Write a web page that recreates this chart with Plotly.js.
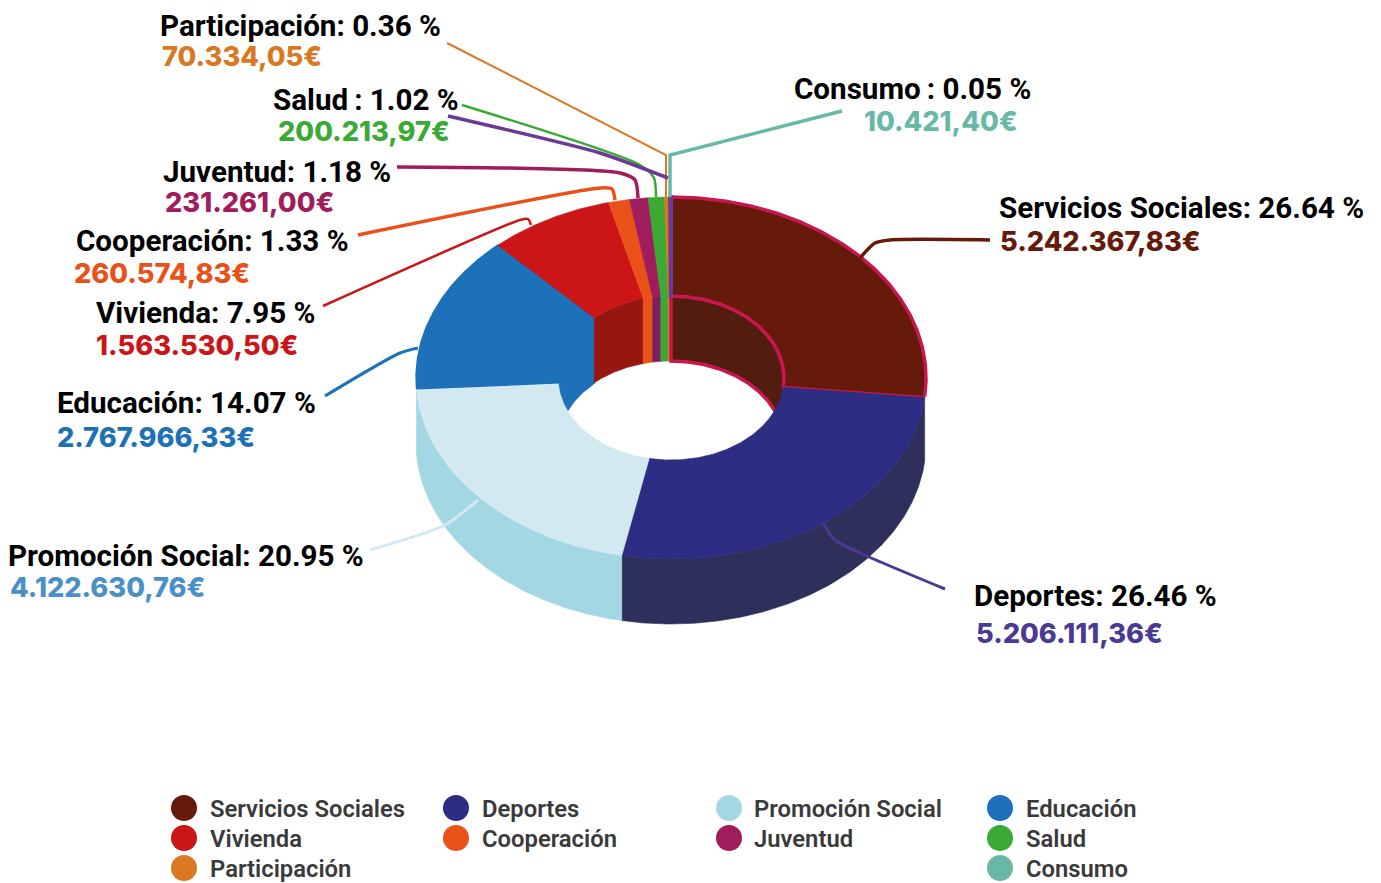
<!DOCTYPE html>
<html><head><meta charset="utf-8">
<script src="https://cdn.plot.ly/plotly-3.0.1.min.js"></script>
<style>html,body{margin:0;padding:0;background:#fff}#c{width:1381px;height:883px}</style>
</head><body><div id="c"></div>
<script>
const categories=["Servicios Sociales","Deportes","Promoción Social","Educación","Vivienda","Cooperación","Juventud","Salud","Participación","Consumo"];
const percents=[26.64,26.46,20.95,14.07,7.95,1.33,1.18,1.02,0.36,0.05];
const percentLabels=["Servicios Sociales: 26.64 %","Deportes: 26.46 %","Promoción Social: 20.95 %","Educación: 14.07 %","Vivienda: 7.95 %","Cooperación: 1.33 %","Juventud: 1.18 %","Salud\u2009: 1.02 %","Participación: 0.36 %","Consumo\u2009: 0.05 %"];
const euros=["5.242.367,83€","5.206.111,36€","4.122.630,76€","2.767.966,33€","1.563.530,50€","260.574,83€","231.261,00€","200.213,97€","70.334,05€","10.421,40€"];
const topColors=["#661a0a","#2e2d84","#d2e9f1","#1c71b8","#cb1517","#ea5119","#a01c5d","#3aaa35","#d97820","#6b3a96"];
const outerWallColors=["#661a0a","#2e2f5a","#a3d7e3","#1c71b8","#cb1517","#ea5119","#a01c5d","#3aaa35","#d97820","#6b3a96"];
const innerWallColors=["#521c0e","#2e2f5a","#a3d7e3","#1c71b8","#95170f","#ea5119","#7d1f5e","#3aaa35","#d97820","#6b3a96"];
const legendColors=["#661a0a","#2e2d84","#a3d7e3","#1c71b8","#cb1517","#ea5119","#a01c5d","#3aaa35","#d97820","#67b9a6"];
const valueColors=["#661a0a","#4a3a94","#4a90c8","#1c71b8","#cb1517","#ea5119","#a01c5d","#3aaa35","#d97820","#67b9a6"];

// geometry of the projected ring
const G={cx:671,cy:378,rx:255,ry:181,irx:113,iry:82,depth:65};
const accent="#c8174f";
const total=percents.reduce((a,b)=>a+b,0);
let run=0;
const bounds=percents.map(p=>{const s=run/total*360;run+=p;return [s,run/total*360];});
const rad=d=>d*Math.PI/180;
function arc(a0,a1,rx,ry,dy){const n=Math.max(2,Math.ceil(Math.abs(a1-a0)/0.5));const xs=[],ys=[];
 for(let i=0;i<=n;i++){const a=rad(a0+(a1-a0)*i/n);xs.push(G.cx+rx*Math.sin(a));ys.push(G.cy+dy-ry*Math.cos(a));}
 return [xs,ys];}
function poly(a,b){const x=a[0].concat(b[0].slice().reverse(),[a[0][0]]);const y=a[1].concat(b[1].slice().reverse(),[a[1][0]]);return [x,y];}
function area(p,fill,lineColor,w,name){return {type:"scatter",mode:"lines",x:p[0],y:p[1],fill:"toself",fillcolor:fill,line:{color:lineColor||fill,width:w===undefined?0.6:w},hoverinfo:"skip",showlegend:false,name:name||""};}
function stroke(p,color,w){return {type:"scatter",mode:"lines",x:p[0],y:p[1],line:{color:color,width:w},hoverinfo:"skip",showlegend:false};}

const traces=[];
// outer walls (near side): only the two big slices reach the visible front
[1,2].forEach(i=>{const b=bounds[i],s=b[0],e=Math.min(b[1],270);
 traces.push(area(poly(arc(s,e,G.rx,G.ry,0),arc(s,e,G.rx,G.ry,G.depth)),outerWallColors[i],null,0.6,categories[i]));});
// inner walls (far side), drawn before the top surface
[[270,360],[0,90]].forEach(r=>{bounds.forEach((b,i)=>{const s=Math.max(b[0],r[0]),e=Math.min(b[1],r[1]);
 if(e>s){const p=poly(arc(s,e,G.irx,G.iry,0),arc(s,e,G.irx,G.iry,G.depth));
  if(i===0)traces.push(area(p,innerWallColors[i],accent,3.5,categories[i]));
  else if(i===9)traces.push(area(p,innerWallColors[i],"#d97820",2,categories[i]));
  else traces.push(area(p,innerWallColors[i],null,i===3?2:0.6,categories[i]));}});});
// top surface
bounds.forEach((b,i)=>{const p=poly(arc(b[0],b[1],G.rx,G.ry,0),arc(b[0],b[1],G.irx,G.iry,0));
 if(i===0||i===9)return;
 traces.push(area(p,topColors[i],null,i===3?1.4:0.6,categories[i]));});
// first slice last so that its accent outline stays on top
(function(){const b=bounds[0];
 traces.push(area(poly(arc(b[0],b[1],G.rx,G.ry,0),arc(b[0],b[1],G.irx,G.iry,0)),topColors[0],null,0.6,categories[0]));
 const o=arc(b[0],b[1],G.rx,G.ry,0),n=arc(b[0],b[1],G.irx,G.iry,0);
 traces.push(stroke(o,accent,3.5));traces.push(stroke(n,accent,3.5));
 traces.push(stroke([[o[0][o[0].length-1],n[0][n[0].length-1]],[o[1][o[1].length-1],n[1][n[1].length-1]]],accent,1.2));
 const c=bounds[9];
 traces.push(area(poly(arc(c[0],c[1],G.rx,G.ry,0),arc(c[0],c[1],G.irx,G.iry,0)),topColors[9],topColors[9],4,categories[9]));
})();

// leader lines
const leaderX=[[860,875,890,990],[823,835,860,945],[478,445,370],[418,400,325],[531,528,520,323],[615,612,600,358],[638,635,620,397],[656,654,640,462],[666,666,447],[670,670,842]];
const leaderY=[[258,243,240,240],[523,540,553,589],[500,525,550],[348,353,396],[225,219,220,306],[200,189,188,235],[198,180,173,167],[197,178,165,105],[197,155,43],[197,155,111]];
const leaderW=[3.5,3,3,3,2.5,3.5,3.5,2.5,2,3.5];
const leaderC=["#661a0a","#4a3a94","#d2e9f1","#1c71b8","#cb1517","#ea5119","#a01c5d","#3aaa35","#d97820","#67b9a6"];
const curved=[true,true,true,true,true,true,true,true,false,false];
leaderX.forEach((x,i)=>{traces.push({type:"scatter",mode:"lines",x:x,y:leaderY[i],line:{color:leaderC[i],width:leaderW[i],shape:curved[i]?"spline":"linear",smoothing:0.7},hoverinfo:"skip",showlegend:false});});
traces.push({type:"scatter",mode:"lines",x:[448,600,668],y:[116,153,178],line:{color:"#6b3a96",width:3.5,shape:"spline",smoothing:0.6},hoverinfo:"skip",showlegend:false});

// legend marks
const legendCols=[184,456,729,1000],legendTextCols=[209,481,753,1025],legendRows=[808,838,868];
const legendCol=[0,1,2,3,0,1,2,3,0,3],legendRow=[0,0,0,0,1,1,1,1,2,2];
categories.forEach((c,i)=>{traces.push({type:"scatter",mode:"markers",x:[legendCols[legendCol[i]]],y:[legendRows[legendRow[i]]],marker:{size:26,color:legendColors[i]},hoverinfo:"skip",showlegend:false,name:c});});

const labelX=[998,973,7,56,95,75,162,272,159,793],labelY=[208,596,556,403,313,241,172,100,26,89];
const valueX=[999,975,9,56,95,73,164,277,161,863],valueY=[241,633,587,437,345,273,202,131,56,121];
const anns=[];
const txt=(t,x,y,f)=>({text:t,x:x,y:y,xref:"x",yref:"y",xanchor:"left",yanchor:"middle",showarrow:false,align:"left",borderpad:0,font:f});
percentLabels.forEach((t,i)=>{anns.push(txt(t,labelX[i],labelY[i],{family:"Roboto",size:29.6,weight:700,color:"#000"}));
 anns.push(txt(euros[i],valueX[i],valueY[i],{family:"Inter",size:27.2,weight:800,color:valueColors[i]}));});
categories.forEach((c,i)=>{anns.push(txt(c,legendTextCols[legendCol[i]],legendRows[legendRow[i]]+1,{family:"Roboto",size:23.8,weight:600,color:"#3a3a3a"}));});

Plotly.newPlot("c",traces,{width:1381,height:883,margin:{l:0,r:0,t:0,b:0},paper_bgcolor:"#fff",plot_bgcolor:"#fff",showlegend:false,
 xaxis:{range:[0,1381],visible:false,fixedrange:true},yaxis:{range:[883,0],visible:false,fixedrange:true},annotations:anns},{displayModeBar:false,staticPlot:true});
</script></body></html>
